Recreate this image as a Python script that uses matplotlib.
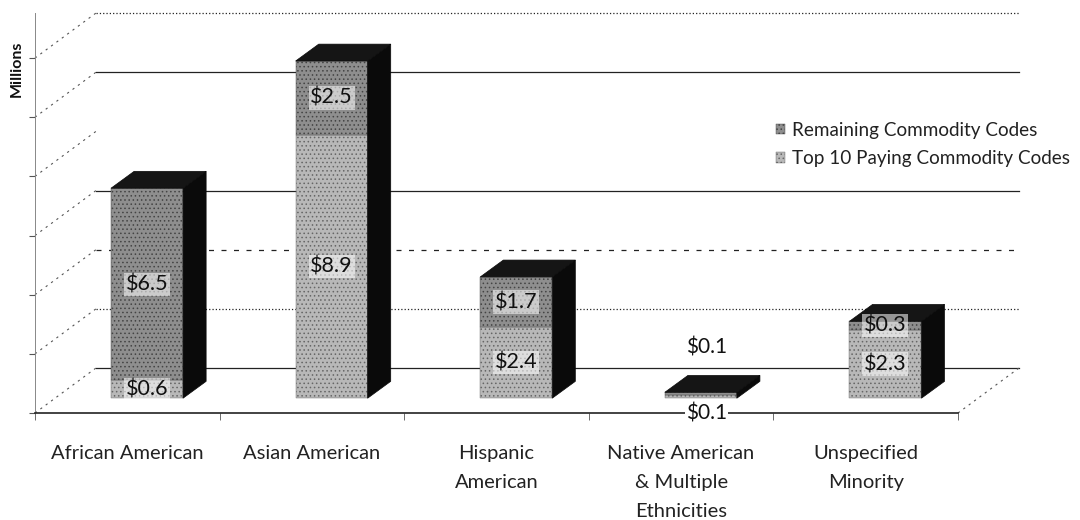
import matplotlib
matplotlib.use('Agg')
import matplotlib.pyplot as plt
from matplotlib.patches import Polygon

plt.rcParams['font.family'] = ['Lato', 'DejaVu Sans']
plt.rcParams['hatch.linewidth'] = 0.6

categories = ['African American', 'Asian American', 'Hispanic\nAmerican',
              'Native American\n& Multiple\nEthnicities', 'Unspecified\nMinority']
top10 = [0.6, 8.9, 2.4, 0.1, 2.3]       # bottom segment
remaining = [6.5, 2.5, 1.7, 0.1, 0.3]   # top segment
yticks = [0, 2, 4, 6, 8, 10, 12]

# fake 3d geometry (data units)
wall_dx, wall_dy = 0.33, 1.52     # depth of the floor / walls
floor_y = -0.5                    # front edge of floor
bar_dx, bar_dy = 0.125, 0.57      # depth of each bar
bar_shift = 0.107                 # bars sit a bit behind the front edge
width = 0.39

fig = plt.figure(figsize=(10.8, 5.2), dpi=100)
ax = fig.add_axes([35 / 1080, (520 - 413) / 520, 923 / 1080, 400 / 520])
ax.set_xlim(-0.5, 4.5)
ax.set_ylim(floor_y, floor_y + 400 / 29.58)

# back wall gridlines and walls
back_x0, back_x1 = -0.5 + wall_dx, 4.5 + wall_dx
grid_styles = ['-', ':', (0, (4, 6)), '-', None, '-', ':']
for v, ls in zip(yticks, grid_styles):
    yb = floor_y + v + wall_dy
    if ls is not None:
        ax.plot([back_x0, back_x1], [yb, yb], color='#222222', lw=0.9, ls=ls,
                zorder=1, clip_on=False)
    # left wall diagonals
    ax.plot([-0.5, back_x0], [floor_y + v, yb], color='#555555', lw=0.8,
            ls=(0, (2, 4)), zorder=1, clip_on=False)
# floor side edges
ax.plot([4.5, back_x1], [floor_y, floor_y + wall_dy], color='#555555', lw=0.8,
        ls=(0, (2, 4)), clip_on=False)

xs = [i + bar_shift for i in range(len(categories))]
b1 = ax.bar(xs, top10, width=width, color='#b8b8b8', edgecolor='#666666',
            hatch='....', lw=0.3, zorder=3, label='Top 10 Paying Commodity Codes')
b2 = ax.bar(xs, remaining, width=width, bottom=top10, color='#8e8e8e',
            edgecolor='#444444', hatch='....', lw=0.3, zorder=3,
            label='Remaining Commodity Codes')

# side and top faces
for x, a, b in zip(xs, top10, remaining):
    tot = a + b
    xl, xr = x - width / 2, x + width / 2
    side = [(xr, 0), (xr + bar_dx, bar_dy), (xr + bar_dx, tot + bar_dy), (xr, tot)]
    top = [(xl, tot), (xl + bar_dx, tot + bar_dy), (xr + bar_dx, tot + bar_dy), (xr, tot)]
    ax.add_patch(Polygon(side, closed=True, fc='#0a0a0a', ec='#0a0a0a', lw=0.5, zorder=3))
    ax.add_patch(Polygon(top, closed=True, fc='#151515', ec='#0a0a0a', lw=0.5, zorder=3))

# value labels
lab_kw = dict(ha='center', va='center', fontsize=15.5, color='#111111', zorder=5,
              bbox=dict(boxstyle='square,pad=0.08', fc='white', ec='none', alpha=0.55))
for x, a, b in zip(xs, top10, remaining):
    if a + b < 0.5:
        ax.text(x + 0.03, a + b + 1.5, f'${b:.1f}', ha='center', va='center',
                fontsize=15, color='#111111', zorder=5)
        ax.text(x + 0.03, floor_y, f'${a:.1f}', ha='center', va='center',
                fontsize=15, color='#111111', zorder=5,
                bbox=dict(boxstyle='square,pad=0.03', fc='white', ec='none'))
    else:
        ax.text(x, a / 2, f'${a:.1f}', **lab_kw)
        ax.text(x, a + b / 2, f'${b:.1f}', **lab_kw)

# axes styling
for s in ['top', 'right']:
    ax.spines[s].set_visible(False)
ax.spines['bottom'].set_color('#222222')
ax.spines['bottom'].set_linewidth(1.2)
ax.spines['left'].set_color('#888888')
ax.spines['left'].set_linewidth(0.7)
ax.set_yticks([floor_y + v for v in yticks])
ax.set_yticklabels([])
ax.tick_params(axis='y', length=4, color='#555555')
ax.set_xticks(range(len(categories)))
ax.set_xticklabels(categories, fontsize=14.5, color='#222222', linespacing=1.85, va='top')
ax.set_xticks([i - 0.5 for i in range(len(categories) + 1)], minor=True)
ax.tick_params(axis='x', which='major', length=0, pad=23)
ax.tick_params(axis='x', which='minor', length=5, color='#555555')
ax.set_ylabel('Millions', fontsize=11.5, fontweight='bold', color='#111111')
ax.yaxis.set_label_coords(-0.012, 0.86)
ax.set_facecolor('none')

leg = ax.legend(handles=[b2, b1], loc='upper left', bbox_to_anchor=(772 / 1080, 1 - 118 / 520),
                bbox_transform=fig.transFigure, frameon=False, fontsize=13.6,
                handlelength=0.5, handleheight=0.5, handletextpad=0.35, labelspacing=0.6,
                borderaxespad=0, borderpad=0.2)
for t in leg.get_texts():
    t.set_color('#222222')

fig.savefig('out.png', dpi=100)
